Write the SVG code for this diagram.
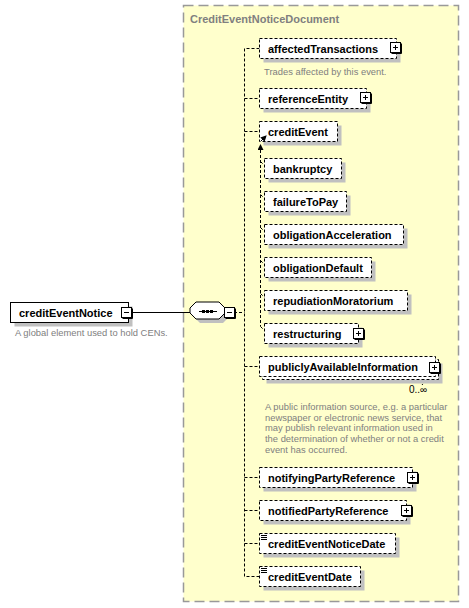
<svg xmlns="http://www.w3.org/2000/svg" width="469" height="608" viewBox="0 0 469 608">
<style>
text{font-family:"Liberation Sans",Arial,sans-serif}
.lbl{font-size:11px;font-weight:bold;fill:#000}
.desc{font-size:9.4px;fill:#808080}
.box{fill:#fff;stroke:#000;stroke-width:1;stroke-dasharray:3 2}
.shd{fill:#c0c0c0}
.dl{fill:none;stroke:#000;stroke-width:1;stroke-dasharray:3 2}
.sl{fill:none;stroke:#000;stroke-width:1}
</style>
<defs>
<g id="plus"><rect x="0.5" y="0.5" width="10" height="10" fill="#fff" stroke="#000"/><path d="M11.5 1.5V11.5H1.5" fill="none" stroke="#000"/><path d="M3 5.5H8M5.5 3V8" stroke="#000" fill="none"/></g>
<g id="minus"><rect x="0.5" y="0.5" width="10" height="10" fill="#fff" stroke="#000"/><path d="M11.5 1.5V11.5H1.5" fill="none" stroke="#000"/><path d="M3 5.5H8" stroke="#000" fill="none"/></g>
<g id="simple"><path d="M0 0.5H6M0 2.5H6M0 4.5H6" stroke="#000" stroke-width="1" fill="none"/></g>
<marker id="ah" markerWidth="6" markerHeight="6" refX="5" refY="3" orient="auto" markerUnits="userSpaceOnUse"><path d="M0 0L6 3L0 6Z" fill="#000"/></marker>
</defs>

<g id="CreditEventNoticeDocument">
<rect x="183.5" y="5.5" width="275" height="596" fill="#ffffcc" stroke="#999" stroke-width="1.5" stroke-dasharray="10 5"/>
<text x="190" y="23" style="font-size:11px;font-weight:bold;fill:#808080">CreditEventNoticeDocument</text>
</g>

<g id="connectors">
<path class="sl" d="M132 312.5H190"/>
<path class="dl" d="M234 312.5H244.5"/>
<path class="dl" d="M259.5 48.5H244.5V576.5H259.5"/>
<path class="dl" d="M244.5 98.5H259.5M244.5 131.5H259.5M244.5 366.5H259.5M244.5 477.5H259.5M244.5 510.5H259.5M244.5 543.5H259.5"/>
<path class="dl" d="M260.5 150V326.5"/>
<path class="sl" d="M260.5 152V145" marker-end="url(#ah)"/>
<path class="dl" d="M260.5 161.5L264.5 165.5M260.5 194.5L264.5 198.5M260.5 227.5L264.5 231.5M260.5 260.5L264.5 264.5M260.5 293.5L264.5 297.5M260.5 326.5L264.5 330.5"/>
<path class="dl" d="M426 380L422 385"/>
</g>

<g id="creditEventNotice">
<rect class="shd" x="14.5" y="306.5" width="118" height="20"/>
<rect x="10.5" y="302.5" width="118" height="20" fill="#fff" stroke="#000"/>
<text class="lbl" x="19" y="316.5">creditEventNotice</text>
<use href="#minus" x="121" y="307"/>
<text class="desc" x="15" y="336">A global element used to hold CENs.</text>
</g>

<g id="sequence">
<polygon class="shd" points="200,306 223,306 229,312 229,317 223,323 200,323 194,317 194,312"/>
<polygon points="196,302 219,302 225,308 225,313 219,319 196,319 190,313 190,308" fill="#fff" stroke="#000"/>
<path class="sl" d="M199 311.5H217"/>
<rect x="202" y="310" width="3" height="3" fill="#000"/>
<rect x="206" y="310" width="3" height="3" fill="#000"/>
<rect x="210" y="310" width="3" height="3" fill="#000"/>
<use href="#minus" x="224" y="307"/>
</g>

<g id="affectedTransactions">
<rect class="shd" x="263.5" y="42.5" width="137" height="20"/>
<rect class="box" x="259.5" y="38.5" width="137" height="20"/>
<text class="lbl" x="268" y="52.5">affectedTransactions</text>
<use href="#plus" x="390" y="42"/>
<text class="desc" x="264" y="75">Trades affected by this event.</text>
</g>

<g id="referenceEntity">
<rect class="shd" x="263.5" y="92.5" width="107" height="20"/>
<rect class="box" x="259.5" y="88.5" width="107" height="20"/>
<text class="lbl" x="268" y="102.5">referenceEntity</text>
<use href="#plus" x="360" y="92"/>
</g>

<g id="creditEvent">
<rect class="shd" x="263.5" y="125.5" width="78" height="20"/>
<rect class="box" x="259.5" y="121.5" width="78" height="20"/>
<text class="lbl" x="268" y="135.5">creditEvent</text>
<path class="sl" d="M261 141L266 136" marker-end="url(#ah)"/>
</g>

<g id="bankruptcy">
<rect class="shd" x="268.5" y="162.5" width="77" height="20"/>
<rect class="box" x="264.5" y="158.5" width="77" height="20"/>
<text class="lbl" x="273" y="172.5">bankruptcy</text>
</g>

<g id="failureToPay">
<rect class="shd" x="268.5" y="195.5" width="82" height="20"/>
<rect class="box" x="264.5" y="191.5" width="82" height="20"/>
<text class="lbl" x="273" y="205.5">failureToPay</text>
</g>

<g id="obligationAcceleration">
<rect class="shd" x="268.5" y="228.5" width="139" height="20"/>
<rect class="box" x="264.5" y="224.5" width="139" height="20"/>
<text class="lbl" x="273" y="238.5">obligationAcceleration</text>
</g>

<g id="obligationDefault">
<rect class="shd" x="268.5" y="261.5" width="107" height="20"/>
<rect class="box" x="264.5" y="257.5" width="107" height="20"/>
<text class="lbl" x="273" y="271.5">obligationDefault</text>
</g>

<g id="repudiationMoratorium">
<rect class="shd" x="268.5" y="294.5" width="143" height="20"/>
<rect class="box" x="264.5" y="290.5" width="143" height="20"/>
<text class="lbl" x="273" y="304.5">repudiationMoratorium</text>
</g>

<g id="restructuring">
<rect class="shd" x="268.5" y="327.5" width="94" height="20"/>
<rect class="box" x="264.5" y="323.5" width="94" height="20"/>
<text class="lbl" x="273" y="337.5">restructuring</text>
<use href="#plus" x="353" y="328"/>
</g>

<g id="publiclyAvailableInformation">
<rect class="shd" x="266.5" y="363.5" width="176" height="20"/>
<rect class="box" x="262.5" y="359.5" width="176" height="20"/>
<rect class="box" x="259.5" y="356.5" width="176" height="20"/>
<text class="lbl" x="268" y="370.5">publiclyAvailableInformation</text>
<use href="#plus" x="429" y="362"/>
<text x="409" y="393" style="font-size:10px;fill:#000">0..∞</text>
<text class="desc" x="265" y="410">A public information source, e.g. a particular</text>
<text class="desc" x="265" y="420.7">newspaper or electronic news service, that</text>
<text class="desc" x="265" y="431.4">may publish relevant information used in</text>
<text class="desc" x="265" y="442.1">the determination of whether or not a credit</text>
<text class="desc" x="265" y="452.8">event has occurred.</text>
</g>

<g id="notifyingPartyReference">
<rect class="shd" x="263.5" y="471.5" width="153" height="20"/>
<rect class="box" x="259.5" y="467.5" width="153" height="20"/>
<text class="lbl" x="268" y="481.5">notifyingPartyReference</text>
<use href="#plus" x="407" y="472"/>
</g>

<g id="notifiedPartyReference">
<rect class="shd" x="263.5" y="504.5" width="147" height="20"/>
<rect class="box" x="259.5" y="500.5" width="147" height="20"/>
<text class="lbl" x="268" y="514.5">notifiedPartyReference</text>
<use href="#plus" x="401" y="505"/>
</g>

<g id="creditEventNoticeDate">
<rect class="shd" x="263.5" y="537.5" width="136" height="20"/>
<rect class="box" x="259.5" y="533.5" width="136" height="20"/>
<use href="#simple" x="261" y="535"/>
<text class="lbl" x="268" y="547.5">creditEventNoticeDate</text>
</g>

<g id="creditEventDate">
<rect class="shd" x="263.5" y="570.5" width="101" height="20"/>
<rect class="box" x="259.5" y="566.5" width="101" height="20"/>
<use href="#simple" x="261" y="568"/>
<text class="lbl" x="268" y="580.5">creditEventDate</text>
</g>
</svg>
